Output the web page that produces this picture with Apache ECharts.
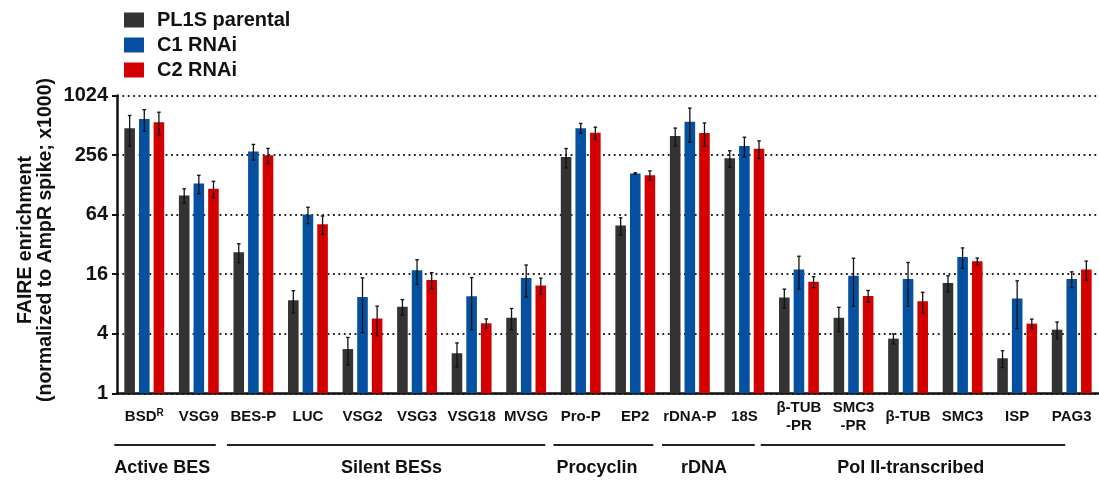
<!DOCTYPE html>
<html>
<head>
<meta charset="utf-8">
<script src="https://cdn.jsdelivr.net/npm/echarts@6/dist/echarts.min.js"></script>
<style>
  html, body { margin: 0; padding: 0; background: #fff; }
  #chart { width: 1099px; height: 481px; }
</style>
</head>
<body>
<div id="chart"></div>
<script>
// Gene loci along the x axis ('^' marks a superscript, '\n' a line break)
const categories = ['BSD^R', 'VSG9', 'BES-P', 'LUC', 'VSG2', 'VSG3', 'VSG18', 'MVSG',
  'Pro-P', 'EP2', 'rDNA-P', '18S', 'β-TUB\n-PR', 'SMC3\n-PR', 'β-TUB', 'SMC3', 'ISP', 'PAG3'];

const seriesNames = ['PL1S parental', 'C1 RNAi', 'C2 RNAi'];

// FAIRE enrichment (x1000) means and standard deviations
const parental   = [479, 100, 26.7, 8.7, 2.8, 7.5, 2.54, 5.8, 244, 49.6, 398, 238, 9.3, 5.8, 3.57, 13.0, 2.26, 4.4];
const parentalSd = [164, 16.6, 5.8, 2.2, 0.87, 1.35, 0.69, 1.4, 54, 9.8, 82, 45, 2.0, 1.6, 0.42, 2.4, 0.44, 0.86];
const c1         = [591, 132, 278, 64, 9.4, 17.5, 9.6, 14.6, 479, 166.5, 555, 317, 17.8, 15.4, 14.3, 23.9, 9.1, 14.3];
const c1Sd       = [145, 28, 50, 12, 5.3, 4.9, 5.2, 5.2, 55, 3, 209, 71, 6.5, 7.8, 6.7, 5.6, 4.6, 2.6];
const c2         = [551, 117, 255, 51.2, 5.7, 14.0, 5.1, 12.3, 430, 160, 427, 296, 13.4, 9.65, 8.5, 21.6, 5.06, 17.8];
const c2Sd       = [143, 22, 44, 10.8, 1.9, 2.6, 0.55, 2.3, 60, 17, 113, 60, 1.7, 1.3, 2.0, 1.7, 0.57, 3.9];

// Y tick values (log base 2)
const yTicks = [1, 4, 16, 64, 256, 1024];

// Locus groups: name, first and last category index
const groups = [
  ['Active BES', 0, 1],
  ['Silent BESs', 2, 7],
  ['Procyclin', 8, 9],
  ['rDNA', 10, 11],
  ['Pol II-transcribed', 12, 17]
];

// ---- styling / layout ----
const FONT = '"Liberation Sans", Arial, Helvetica, sans-serif';
const COLORS = ['#333333', '#0650a2', '#d40000'];
const BAR_W = 10.6;
const BAR_GAP = 0.38;
// bracket extents and label centres, in category units
const groupLayout = [
  { from: -0.55, to: 1.31, label: 0.33 },
  { from: 1.515, to: 7.35, label: 4.53 },
  { from: 7.5, to: 9.33, label: 8.30 },
  { from: 9.49, to: 11.19, label: 10.26 },
  { from: 11.3, to: 16.88, label: 14.05 }
];
const BRACKET_Y = 445;
const GROUP_LABEL_Y = 468;

const means = [parental, c1, c2];
const sds = [parentalSd, c1Sd, c2Sd];

const chart = echarts.init(document.getElementById('chart'), null, { renderer: 'canvas' });

function errorRenderer(k) {
  const step = BAR_W * (1 + BAR_GAP);
  const off = (k - 1) * step;
  return function (params, api) {
    const i = api.value(0), v = api.value(1), sd = api.value(2);
    const x = api.coord([i, v])[0] + off;
    const yTop = api.coord([i, v + sd])[1];
    const yBot = api.coord([i, v - sd])[1];
    const cap = 1.8;
    const st = { stroke: '#111', lineWidth: 1.3 };
    return {
      type: 'group',
      children: [
        { type: 'line', shape: { x1: x, y1: yTop, x2: x, y2: yBot }, style: st },
        { type: 'line', shape: { x1: x - cap, y1: yTop, x2: x + cap, y2: yTop }, style: st },
        { type: 'line', shape: { x1: x - cap, y1: yBot, x2: x + cap, y2: yBot }, style: st }
      ]
    };
  };
}

const barSeries = seriesNames.map((name, k) => ({
  name: name,
  type: 'bar',
  data: means[k],
  barWidth: BAR_W,
  barGap: (BAR_GAP * 100) + '%',
  itemStyle: { color: COLORS[k] },
  z: 2
}));

const errSeries = seriesNames.map((name, k) => ({
  name: name + ' SD',
  type: 'custom',
  renderItem: errorRenderer(k),
  data: means[k].map((v, i) => [i, v, sds[k][i]]),
  encode: { x: 0, y: 1 },
  z: 5,
  silent: true
}));

chart.setOption({
  animation: false,
  backgroundColor: '#ffffff',
  textStyle: { fontFamily: FONT },
  grid: { left: 117, top: 95.5, width: 986, height: 297.8, containLabel: false },
  legend: {
    data: seriesNames,
    orient: 'vertical',
    left: 124,
    top: 10,
    padding: 0,
    itemWidth: 20,
    itemHeight: 15,
    itemGap: 5,
    icon: 'rect',
    textStyle: { fontFamily: FONT, fontWeight: 'bold', fontSize: 20, color: '#111', padding: [0, 0, 0, 8] }
  },
  xAxis: {
    type: 'category',
    data: categories,
    axisLine: { lineStyle: { color: '#111', width: 2.5 } },
    axisTick: { show: false },
    axisLabel: {
      interval: 0,
      margin: 24,
      verticalAlign: 'middle',
      fontFamily: FONT,
      fontWeight: 'bold',
      fontSize: 15,
      color: '#111',
      lineHeight: 18,
      formatter: function (val) {
        if (val.indexOf('^') >= 0) {
          const p = val.split('^');
          return '{b|' + p[0] + '}{sup|' + p[1] + '}';
        }
        return val;
      },
      rich: {
        b: { fontFamily: FONT, fontWeight: 'bold', fontSize: 15, color: '#111', lineHeight: 18 },
        sup: { fontFamily: FONT, fontWeight: 'bold', fontSize: 10, color: '#111', verticalAlign: 'top', lineHeight: 10 }
      }
    },
    splitLine: { show: false }
  },
  yAxis: {
    type: 'log',
    logBase: 2,
    min: yTicks[0],
    max: yTicks[yTicks.length - 1],
    interval: 2,
    axisLine: { show: true, lineStyle: { color: '#111', width: 2.5 } },
    axisTick: { show: true, length: 5, lineStyle: { color: '#111', width: 2 } },
    axisLabel: {
      margin: 9,
      fontFamily: FONT,
      fontWeight: 'bold',
      fontSize: 20,
      color: '#111',
      formatter: v => String(Math.round(v))
    },
    splitLine: { show: true, lineStyle: { color: '#222', width: 1.8, type: [1.8, 3.6] } },
    minorTick: { show: false }
  },
  series: barSeries.concat(errSeries)
});

// Group brackets and titles beneath the category labels, plus the y-axis title
function drawGroups() {
  const x0 = chart.convertToPixel({ xAxisIndex: 0 }, 0);
  const x1 = chart.convertToPixel({ xAxisIndex: 0 }, 1);
  const band = x1 - x0;
  const at = f => x0 + f * band;
  const elements = [];
  groups.forEach((g, gi) => {
    const L = groupLayout[gi];
    elements.push({
      type: 'line',
      shape: { x1: at(L.from), y1: BRACKET_Y, x2: at(L.to), y2: BRACKET_Y },
      style: { stroke: '#222', lineWidth: 2 }
    });
    elements.push({
      type: 'text',
      x: at(L.label),
      y: GROUP_LABEL_Y,
      style: {
        text: g[0],
        fill: '#111',
        font: 'bold 18px ' + FONT,
        textAlign: 'center',
        textVerticalAlign: 'middle'
      }
    });
  });
  elements.push({
    type: 'text',
    x: 36,
    y: 240,
    rotation: Math.PI / 2,
    style: {
      text: 'FAIRE enrichment\n(normalized to AmpR spike; x1000)',
      fill: '#111',
      font: 'bold 19.5px ' + FONT,
      lineHeight: 20,
      textAlign: 'center',
      textVerticalAlign: 'middle'
    }
  });
  chart.setOption({ graphic: { elements: elements } });
}
drawGroups();
</script>
</body>
</html>
